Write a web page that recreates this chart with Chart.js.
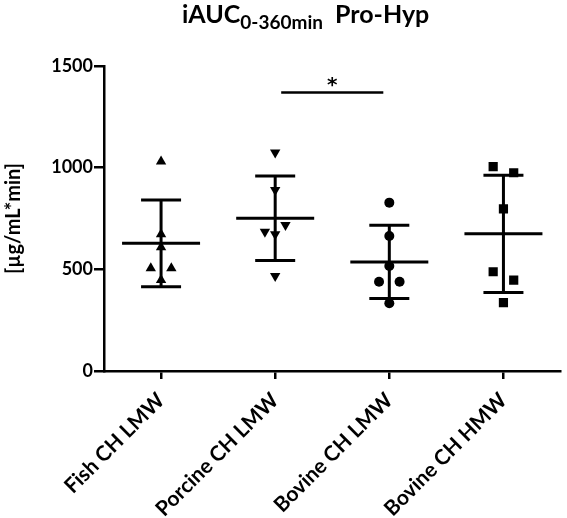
<!DOCTYPE html>
<html>
<head>
<meta charset="utf-8">
<script src="https://cdn.jsdelivr.net/npm/chart.js@4"></script>
<style>
  html, body { margin: 0; padding: 0; background: #fff; }
  #wrap { position: relative; width: 567px; height: 518px; }
  #title {
    position: absolute; left: 182px; top: -2px;
    font: bold 25px Lato, sans-serif; color: #000; white-space: nowrap;
  }
  #title sub { font-size: 19px; vertical-align: -6px; line-height: 0; }
  #title .rest { margin-left: 12px; }
</style>
</head>
<body>
<div id="wrap">
  <div id="title">iAUC<sub>0-360min</sub><span class="rest">Pro-Hyp</span></div>
  <canvas id="myChart" width="567" height="518"></canvas>
</div>
<script>
// Values (µg/mL*min), six subjects per group.
const categories = ['Fish CH LMW', 'Porcine CH LMW', 'Bovine CH LMW', 'Bovine CH HMW'];
const fishLMW = [1030, 672, 608, 505, 505, 447];
const porcineLMW = [1075, 890, 718, 685, 672, 467];
const bovineLMW = [828, 664, 516, 439, 439, 333];
const bovineHMW = [1005, 975, 797, 488, 447, 336];
const yTicks = [0, 500, 1000, 1500];
// significance bracket: between group 2 and group 3, p < 0.05
const sigPair = [2, 3];
const sigLevel = 1370;

const groups = [fishLMW, porcineLMW, bovineLMW, bovineHMW];
const markers = [
  { style: 'triangle', rot: 0, r: 6 },
  { style: 'triangle', rot: 180, r: 6 },
  { style: 'circle', rot: 0, r: 5 },
  { style: 'rect', rot: 0, r: 6.5 }
];

function mean(a) { return a.reduce((s, v) => s + v, 0) / a.length; }
function sd(a) {
  const m = mean(a);
  return Math.sqrt(a.reduce((s, v) => s + (v - m) * (v - m), 0) / (a.length - 1));
}

// spread out points that would sit on top of each other
function jitter(vals, pos) {
  const idx = vals.map((v, i) => i).sort((a, b) => vals[b] - vals[a]);
  const out = vals.map(() => 0);
  let cluster = [idx[0]];
  const flush = () => {
    const w = 0.09;
    const pat = cluster.length === 2 ? [-w, w] : cluster.length === 3 ? [w, -w, 0] : cluster.map(() => 0);
    cluster.forEach((k, j) => { out[k] = pat[j]; });
  };
  for (let n = 1; n < idx.length; n++) {
    if (vals[idx[n - 1]] - vals[idx[n]] < 45) cluster.push(idx[n]);
    else { flush(); cluster = [idx[n]]; }
  }
  flush();
  return vals.map((v, i) => ({ x: pos + out[i], y: v }));
}

const errorBars = {
  id: 'errorBars',
  afterDatasetsDraw(chart) {
    const c = chart.ctx, xs = chart.scales.x, ys = chart.scales.y;
    c.save();
    c.strokeStyle = '#000';
    c.lineWidth = 3;
    c.lineCap = 'butt';
    groups.forEach((g, i) => {
      const px = xs.getPixelForValue(i + 1);
      const m = mean(g), s = sd(g);
      const yM = ys.getPixelForValue(m), yU = ys.getPixelForValue(m + s), yL = ys.getPixelForValue(m - s);
      c.beginPath();
      c.moveTo(px - 39, yM); c.lineTo(px + 39, yM);
      c.moveTo(px, yU); c.lineTo(px, yL);
      c.moveTo(px - 20, yU); c.lineTo(px + 20, yU);
      c.moveTo(px - 20, yL); c.lineTo(px + 20, yL);
      c.stroke();
    });
    // significance line with asterisk
    const x1 = xs.getPixelForValue(sigPair[0]) + 6, x2 = xs.getPixelForValue(sigPair[1]) - 6;
    const yS = ys.getPixelForValue(sigLevel);
    c.lineWidth = 2.5;
    c.beginPath(); c.moveTo(x1, yS); c.lineTo(x2, yS); c.stroke();
    c.fillStyle = '#000';
    c.font = 'bold 20px "DejaVu Sans", sans-serif';
    c.textAlign = 'center';
    c.textBaseline = 'alphabetic';
    c.fillText('*', (x1 + x2) / 2, yS - 1);
    c.restore();
  }
};

const ctx = document.getElementById('myChart');

new Chart(ctx, {
  type: 'scatter',
  data: {
    datasets: groups.map((g, i) => ({
      label: categories[i],
      data: jitter(g, i + 1),
      pointStyle: markers[i].style,
      pointRotation: markers[i].rot,
      pointRadius: markers[i].r,
      pointHoverRadius: markers[i].r,
      backgroundColor: '#000',
      borderColor: '#000',
      borderWidth: 0
    }))
  },
  options: {
    responsive: false,
    animation: false,
    events: [],
    layout: { padding: { top: 66, right: 4, left: 0, bottom: 0 } },
    plugins: { legend: { display: false }, tooltip: { enabled: false } },
    scales: {
      x: {
        type: 'linear',
        min: 0.5,
        max: 4.5,
        afterBuildTicks: (s) => { s.ticks = categories.map((c, i) => ({ value: i + 1 })); },
        afterFit: (s) => { s.height = 147; },
        border: { display: true, color: '#000', width: 2.5 },
        grid: { drawOnChartArea: false, drawTicks: true, tickLength: 8, color: '#000', lineWidth: 2.5 },
        ticks: {
          autoSkip: false,
          minRotation: 45,
          maxRotation: 45,
          padding: 9,
          color: '#000',
          font: { family: 'Lato', weight: 'bold', size: 21 },
          callback: (v) => categories[v - 1]
        }
      },
      y: {
        min: 0,
        max: 1500,
        afterBuildTicks: (s) => { s.ticks = yTicks.map(v => ({ value: v })); },
        afterFit: (s) => { s.width = 104; },
        border: { display: true, color: '#000', width: 2.5 },
        grid: { drawOnChartArea: false, drawTicks: true, tickLength: 10, color: '#000', lineWidth: 2.5 },
        ticks: {
          padding: 1,
          color: '#000',
          font: { family: 'Lato', weight: 'bold', size: 18 },
          callback: (v) => String(v)
        },
        title: {
          display: true,
          text: '[µg/mL*min]',
          color: '#000',
          padding: { top: 2, bottom: 0 },
          font: { family: 'Lato', weight: 'bold', size: 20 }
        }
      }
    }
  },
  plugins: [errorBars]
});
</script>
</body>
</html>
